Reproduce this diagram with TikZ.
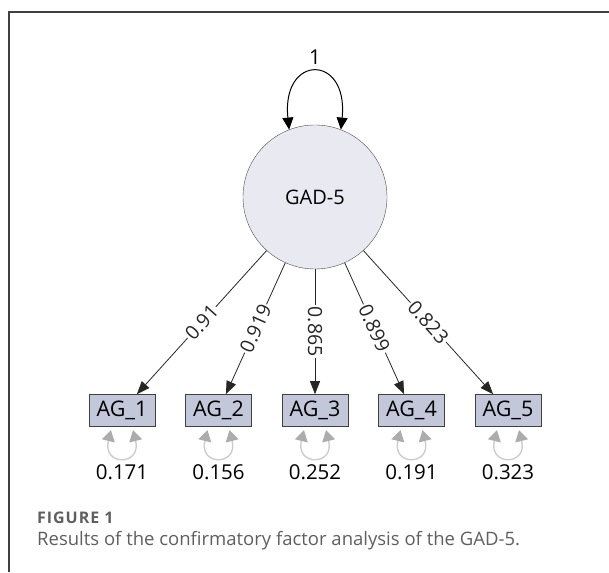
\documentclass[tikz,border=0pt]{standalone}
\usepackage{fontspec}
\setmainfont{Open Sans}
\usetikzlibrary{positioning, arrows.meta}

\definecolor{latentfill}{RGB}{233,234,241}
\definecolor{boxfill}{RGB}{194,200,218}
\definecolor{captiongray}{RGB}{95,95,95}

\begin{document}
\begin{tikzpicture}[
        x=1pt, y=1pt,
        node distance=125pt and 29.5pt,
        latent/.style={draw=black!70, circle, fill=latentfill, minimum size=144pt, inner sep=0pt, font=\fontsize{20}{24}\selectfont},
        indicator/.style={draw=black!75, line width=1pt, fill=boxfill, minimum width=66pt, minimum height=32pt, inner sep=0pt, font=\fontsize{21.5}{24}\selectfont},
        loading/.style={sloped, fill=white, inner sep=1.5pt, font=\fontsize{19.5}{22}\selectfont},
        value/.style={inner sep=0pt, font=\fontsize{20.5}{24}\selectfont},
        arrow/.style={draw, black!85, line width=0.8pt, -{Triangle[length=13pt, width=10pt]}},
        varloop/.style={draw, black, line width=1pt, {Triangle[length=12pt, width=11pt]}-{Triangle[length=12pt, width=11pt]}},
        errloop/.style={draw, gray!40, line width=1.4pt, {Triangle[length=11pt, width=13pt, fill=gray!65, color=gray!65]}-{Triangle[length=11pt, width=13pt, fill=gray!65, color=gray!65]}}
    ]
    \useasboundingbox (0,0) rectangle (609,572);
    \draw[black!75, line width=1.5pt] (9,0) |- (609,560);

    % Faktor
    \node (gad) [latent] at (315,375) {GAD-5};
    \node (gadvar) [value, above=60pt of gad] {1};

    % Indikatoren
    \node (ag3) [indicator, below=of gad] {AG\_3};
    \node (ag2) [indicator, left=of ag3] {AG\_2};
    \node (ag1) [indicator, left=of ag2] {AG\_1};
    \node (ag4) [indicator, right=of ag3] {AG\_4};
    \node (ag5) [indicator, right=of ag4] {AG\_5};

    % Fehlervarianzen
    \node (e1) [value, below=37pt of ag1] {0.171};
    \node (e2) [value, below=37pt of ag2] {0.156};
    \node (e3) [value, below=37pt of ag3] {0.252};
    \node (e4) [value, below=37pt of ag4] {0.191};
    \node (e5) [value, below=37pt of ag5] {0.323};

    % Ladungen
    \draw[arrow] (gad) -- node[loading] {0.91} (ag1);
    \draw[arrow] (gad) -- node[loading] {0.919} (ag2);
    \draw[arrow] (gad) -- node[loading] {0.865} (ag3);
    \draw[arrow] (gad) -- node[loading] {0.899} (ag4);
    \draw[arrow] (gad) -- node[loading] {0.823} (ag5);

    % Varianzen
    \draw[varloop] (gad.111) .. controls +(-8,76) and +(8,76) .. (gad.69);
    \draw[errloop] ([xshift=-11pt, yshift=-3pt]ag1.south) .. controls +(-9,-36) and +(9,-36) .. ([xshift=11pt, yshift=-3pt]ag1.south);
    \draw[errloop] ([xshift=-11pt, yshift=-3pt]ag2.south) .. controls +(-9,-36) and +(9,-36) .. ([xshift=11pt, yshift=-3pt]ag2.south);
    \draw[errloop] ([xshift=-11pt, yshift=-3pt]ag3.south) .. controls +(-9,-36) and +(9,-36) .. ([xshift=11pt, yshift=-3pt]ag3.south);
    \draw[errloop] ([xshift=-11pt, yshift=-3pt]ag4.south) .. controls +(-9,-36) and +(9,-36) .. ([xshift=11pt, yshift=-3pt]ag4.south);
    \draw[errloop] ([xshift=-11pt, yshift=-3pt]ag5.south) .. controls +(-9,-36) and +(9,-36) .. ([xshift=11pt, yshift=-3pt]ag5.south);

    % Beschriftung
    \node (figlabel) [anchor=west, inner sep=0pt, text=captiongray, font=\fontsize{16}{18}\selectfont\bfseries\addfontfeatures{LetterSpace=6}] at (37,54) {FIGURE 1};
    \node (caption) [anchor=west, inner sep=0pt, text=captiongray, font=\fontsize{18.5}{22}\selectfont] at (37,31) {Results of the confirmatory factor analysis of the GAD-5.};
\end{tikzpicture}
\end{document}
